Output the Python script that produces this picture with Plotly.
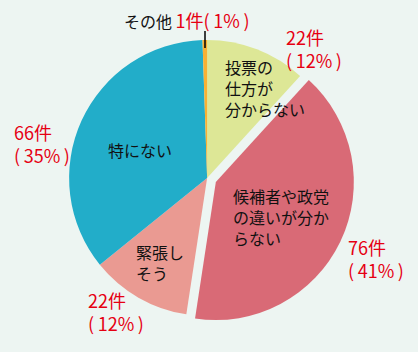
import plotly.graph_objects as go

# ---- data ----
labels = ["投票の仕方が分からない", "候補者や政党の違いが分からない", "緊張しそう", "特にない", "その他"]
counts = [22, 76, 22, 66, 1]
label_lines = ["投票の<br>仕方が<br>分からない", "候補者や政党<br>の違いが分か<br>らない", "緊張し<br>そう", "特にない", "その他"]

# ---- styles ----
colors = ["#dde796", "#d96a76", "#ea9a92", "#22adc9", "#f8b133"]
pulls = [0, 0.07, 0, 0, 0]
BG = "#edf5f2"
RED = "#e60012"
W, H = 418, 352
FONT = "Noto Sans CJK JP"
TS = "\u2009"

total = sum(counts)
pcts = [round(c / total * 100) for c in counts]

fig = go.Figure(go.Pie(
    labels=labels, values=counts, sort=False, direction="clockwise", rotation=0,
    marker=dict(colors=colors, line=dict(width=0)),
    pull=pulls, textinfo="none", hoverinfo="skip", showlegend=False,
    domain=dict(x=[0.142, 0.849], y=[0.075, 0.914]),
))

def px(x, y):
    return x / W, 1 - y / H

# label placements (pixels): (x, y, xanchor)
inner_pos = [(223, 88, "left"), (231, 217, "left"), (134, 262, "left"), (140, 150, "center")]
count_pos = [(284, 49, "left"), (346, 258, "left"), (86, 311, "left"), (12, 143, "left")]

annos = []
for i in range(4):
    x, y, xa = inner_pos[i]
    ax, ay = px(x, y)
    annos.append(dict(x=ax, y=ay, xref="paper", yref="paper", text=label_lines[i],
                      showarrow=False, xanchor=xa, yanchor="middle", align="left",
                      font=dict(family=FONT, size=16, color="#111111")))
    x, y, xa = count_pos[i]
    ax, ay = px(x, y)
    annos.append(dict(x=ax, y=ay, xref="paper", yref="paper",
                      text=f"{counts[i]}件<br>({TS}{pcts[i]}%{TS})",
                      showarrow=False, xanchor=xa, yanchor="middle", align="left",
                      font=dict(family=FONT, size=18, color=RED)))

ax, ay = px(122, 20)
annos.append(dict(x=ax, y=ay, xref="paper", yref="paper",
                  text=(f"{label_lines[4]} <span style='color:{RED};font-size:18px'>"
                        f"{counts[4]}件({TS}{pcts[4]}%{TS})</span>"),
                  showarrow=False, xanchor="left", yanchor="middle",
                  font=dict(family=FONT, size=16, color="#111111")))

x0, y0 = px(205, 31)
x1, y1 = px(205, 48)
fig.add_shape(type="line", xref="paper", yref="paper", x0=x0, y0=y0, x1=x1, y1=y1,
              line=dict(color="#000000", width=1.5))

fig.update_layout(
    width=W, height=H, margin=dict(l=0, r=0, t=0, b=0),
    paper_bgcolor=BG, plot_bgcolor=BG, annotations=annos,
)
fig.write_html("out.html")
